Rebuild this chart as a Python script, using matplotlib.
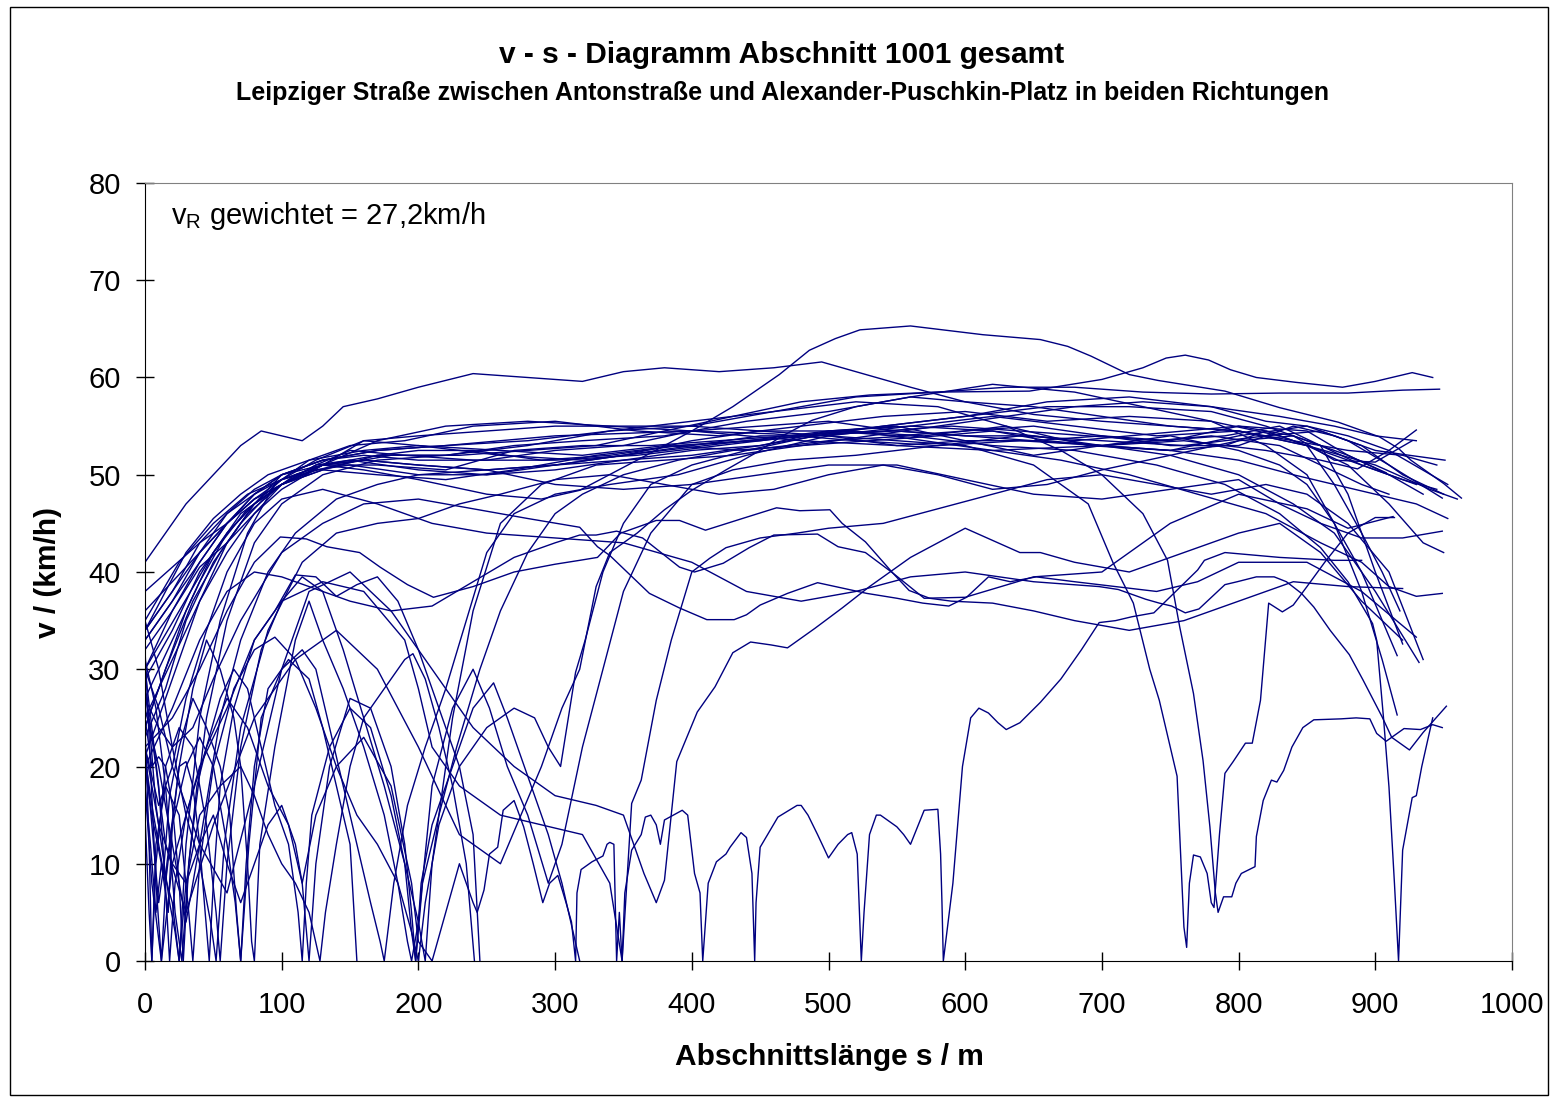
import matplotlib
matplotlib.use("Agg")
import matplotlib.pyplot as plt
from matplotlib.patches import Rectangle

plt.rcParams['font.family'] = ['Liberation Sans', 'DejaVu Sans']
plt.rcParams['mathtext.fontset'] = 'custom'
plt.rcParams['mathtext.rm'] = 'Liberation Sans'
plt.rcParams['mathtext.it'] = 'Liberation Sans'

# measured runs: (s in m, v in km/h)
r01 = [(0,41),(15,44),(30,47),(50,50),(70,53),(85,54.5),(100,54),(115,53.5),(130,55),(145,57),(170,57.8),(200,59),(240,60.4),(280,60),(320,59.6),(350,60.6),(380,61),(420,60.6),(460,61),(495,61.6),(520,60.6),(560,59),(600,57.5),(650,56.2),(700,55.5),(750,55),(800,54.5),(850,53),(900,51),(940,48.5),(960,47.5)]
r02 = [(0,34),(20,38),(40,43),(60,46),(80,48),(100,49.5),(130,51),(160,50.5),(200,49.5),(250,48),(290,47.5),(318,48.4),(360,51.5),(400,54.5),(430,57),(464,60.3),(486,62.8),(505,64),(523,64.9),(560,65.3),(613,64.4),(655,63.9),(675,63.2),(692,62.2),(720,60.3),(741,59.7),(790,58.6),(830,56.9),(873,55.4),(903,53.9),(917,52.7),(926,51.5),(950,49.1),(963,47.6)]
r03 = [(0,33),(20,37),(40,42),(60,46),(80,48.5),(100,50),(130,51.5),(170,52.5),(220,53),(280,53.5),(340,54.5),(400,55),(460,56.5),(520,58),(580,58.5),(647,58.6),(700,59.8),(730,61),(747,62),(761,62.3),(778,61.8),(794,60.8),(813,60),(842,59.5),(876,59),(900,59.6),(927,60.5),(942,60)]
r04 = [(0,35),(25,41),(50,45),(75,48),(100,49.5),(140,51),(180,52),(230,52),(280,52.5),(330,53),(380,54.5),(430,56),(480,57.5),(530,58.2),(580,58.5),(630,59),(680,59),(730,58.5),(780,58.3),(830,58.4),(880,58.4),(920,58.7),(947,58.8)]
r05 = [(0,30),(20,36),(40,41),(60,45),(80,48),(100,50),(130,51.5),(170,52.5),(220,53),(300,54),(400,54.5),(480,53.5),(550,53),(620,52.5),(700,53),(760,53.5),(820,52.5),(860,51.5),(887,50.6),(910,52.5),(930,54.6)]
r06 = [(0,27),(20,33),(40,39),(60,44),(80,47),(100,49.5),(125,51.5),(160,53.5),(200,53),(260,52),(320,51.5),(380,52.5),(440,53.5),(500,54.5),(560,55),(620,54.5),(680,53.5),(720,54),(760,54.5),(800,55),(840,54),(870,51.5),(900,51.3),(927,53.5)]
r07 = [(0,24),(15,30),(35,37),(55,42),(75,46),(100,49),(125,51),(150,52.5),(190,52),(240,51.5),(300,51.5),(360,52),(420,53),(480,54),(540,55),(600,56),(660,57.5),(720,58),(780,57),(820,55.5),(850,55),(880,54),(910,52.5),(953,49)]
r08 = [(0,34),(20,38),(40,42),(60,45),(80,47.5),(100,49),(125,51),(150,51.5),(200,50.5),(250,50),(300,50.5),(350,51.5),(400,52),(450,53),(500,54.2),(550,54.5),(600,54),(650,53.5),(700,53),(750,52.5),(800,54),(850,55),(880,53.5),(910,51),(949,47.6)]
r09 = [(0,23),(15,28),(30,35),(50,41),(70,45),(90,48),(110,50),(130,51),(160,51.5),(200,51),(250,50.5),(300,51),(350,52),(400,53.5),(450,54.5),(500,54),(550,53),(600,53.5),(650,53.5),(700,54),(750,53),(800,53),(840,55),(870,54),(900,52.5),(925,52),(951,51.5)]
r10 = [(0,38),(20,40.5),(40,43),(60,45),(80,47.5),(100,49),(130,50.5),(170,50),(220,49.5),(270,50.5),(330,52),(390,53),(450,53.5),(510,54.5),(570,54),(630,55),(690,53),(750,52.5),(800,51.5),(840,50),(870,49),(900,48),(930,47),(953,45.5)]
r11 = [(0,29),(20,34),(40,40),(60,44),(80,47),(100,49),(130,51),(160,53.5),(200,54),(250,54.5),(300,55),(350,55),(400,55),(450,54.5),(500,54.5),(550,54),(600,54.5),(650,55),(700,54),(750,53.5),(800,55),(850,54.5),(880,52),(908,50.2)]
r12 = [(0,32),(20,36),(40,40.5),(60,43),(80,46),(100,48.5),(130,51),(170,53.5),(220,55),(280,55.5),(340,55),(400,54.5),(460,54.2),(520,53.5),(580,53),(640,53.5),(700,53),(750,52.5),(790,53),(820,54.5),(850,53),(870,49),(890,44),(905,40),(918,36)]
r13 = [(0,25),(20,31),(40,37),(60,42),(80,46),(100,49),(130,50.5),(170,52),(200,52.5),(240,52.5),(290,51.5),(340,52),(390,53),(440,53.5),(490,54),(540,54.5),(590,55),(640,54.5),(690,54),(740,53.5),(790,54),(830,55),(860,53),(880,48),(900,40),(920,32.6)]
r14 = [(0,30),(25,36),(50,42),(75,46.5),(100,49),(125,50.5),(150,51),(200,50),(250,50),(300,51),(350,51.5),(400,52.5),(450,53),(500,54.5),(550,55),(600,53.5),(650,52),(700,53),(750,54),(800,52.5),(830,51),(850,49),(870,45),(890,40),(916,31.4)]
r15 = [(0,21),(20,29),(40,37),(60,43),(80,47),(100,50),(130,51.5),(160,52),(200,51.5),(250,51.5),(300,52.5),(350,53),(400,54.5),(450,55),(500,55.5),(550,54.5),(600,54),(650,54),(700,53),(750,52),(800,50),(840,47),(870,44),(900,38),(932,30.7)]
r16 = [(0,36),(20,39),(40,42),(60,45),(80,48),(100,50),(130,51),(170,51),(220,50.5),(270,52.5),(320,53),(370,53),(420,53.5),(470,54),(520,54.5),(570,53.5),(620,52.5),(670,51.5),(720,50),(770,48),(820,46),(860,43),(890,41),(910,38.5),(930,37.5),(949,37.8)]
r17 = [(0,33),(20,37),(40,41),(60,45),(80,47.5),(100,49.5),(130,51),(170,52),(220,52),(270,53),(320,53.5),(380,54),(440,55.5),(500,56.5),(560,58),(620,59.3),(680,58.5),(730,57),(780,55.5),(820,53),(850,50),(870,45),(890,38),(905,31),(916,25.3)]
r18 = [(0,24),(15,30),(30,36),(50,42),(70,46),(100,49),(130,51),(160,51.5),(200,51),(250,50.5),(300,49),(350,48.5),(400,49),(450,50),(500,51),(550,51),(600,49.5),(650,48),(700,47.5),(750,48.5),(800,49.5),(830,47),(860,45),(890,43.5),(920,43.5),(949,44.2)]
r19 = [(0,22),(20,25),(40,30),(60,36),(80,41),(99,43.6),(118,43.4),(133,42.6),(157,42),(172,40.5),(192,38.7),(211,37.4),(240,38.5),(270,40),(300,40.8),(318,41.2),(331,41.5),(348,44),(374,45.3),(391,45.3),(410,44.3),(437,45.5),(462,46.6),(479,46.3),(501,46.4),(510,45),(527,43.1),(547,39.9),(570,37.3),(600,37.4),(650,39.5),(700,40),(750,45),(800,48),(850,46.5),(880,44.5),(913,45.7)]
r20 = [(0,27),(10,24),(20,22),(35,24),(50,29),(70,35),(100,42),(130,45),(160,47),(200,47.5),(240,46.5),(280,45.5),(318,44.6),(331,42.6),(340,41.7),(369,37.8),(391,36.3),(411,35.1),(431,35.1),(440,35.6),(450,36.6),(470,37.8),(492,38.9),(528,37.8),(550,37.3),(569,36.8),(588,36.5),(601,37.4),(617,39.5),(633,39),(652,39.5),(680,39),(710,38.5),(740,38),(770,39),(800,41),(850,41),(890,38),(930,33.3)]
r21 = [(0,20),(20,26),(40,33),(60,38),(80,40),(100,39.5),(120,38.5),(150,37),(180,36),(210,36.5),(240,39),(270,41.5),(300,43),(318,43.8),(330,43.8),(345,44.2),(364,43.5),(391,40.5),(402,40),(423,40.9),(442,42.5),(460,43.8),(492,43.9),(507,42.6),(527,42),(547,39.9),(559,38.1),(574,37.3),(590,37),(620,36.8),(650,36),(680,35),(720,34),(760,35),(800,37),(840,39),(880,38.5),(920,38.3)]
r22 = [(0,28),(8,20),(15,12),(30,5),(50,14),(80,25),(110,31),(140,34),(170,30),(200,22),(230,13),(260,10),(290,20),(305,26),(318,30),(330,38.5),(340,42),(360,44),(380,46.4),(400,48.4),(425,50.5),(450,52.5),(465,53.9),(488,55.6),(520,57),(560,58),(600,57.5),(650,57),(700,56),(750,55),(800,54.5),(840,53.5),(880,52.5),(920,52),(945,51)]
r23 = [(0,18),(5,8),(12,0),(20,10),(40,20),(60,26),(80,33),(100,37),(130,39),(160,38),(190,33),(200,28),(210,22),(230,18),(260,15),(290,14),(320,13),(340,8),(349,0),(356,16.2),(363,18.6),(374,26.8),(385,33),(400,40),(413,41.4),(425,42.5),(450,43.5),(477,44),(500,44.5),(540,45),(580,46.5),(620,48),(660,49.5),(700,50),(740,49),(780,48),(820,49),(850,48),(880,45),(910,40),(935,31)]
r24 = [(0,30),(10,26),(20,20),(40,12),(60,7),(80,18),(100,30),(120,38),(150,40),(180,36),(210,30),(240,24),(270,20),(300,17),(330,16),(350,15),(365,9),(374,6),(380,8.3),(389,20.5),(404,25.6),(417,28.2),(430,31.7),(443,32.8),(458,32.5),(470,32.2),(490,34.2),(510,36.3),(530,38.5),(560,41.5),(600,44.5),(640,42),(655,42),(680,41),(720,40),(760,42),(800,44),(830,45),(860,42),(890,37),(920,33)]
r25 = [(0,22),(5,18),(10,14),(20,10),(30,8),(40,12),(50,15),(60,10),(70,6),(80,10),(90,14),(100,16),(110,12),(115,8),(125,15),(140,20),(160,23),(180,18),(195,8),(200,2),(210,0),(220,5),(230,10),(240,6),(243,5),(248,7.3),(252,11),(258,11.7),(262,15.5),(270,16.5),(277,13.8),(284,10),(291,6),(296,8),(302,8.8),(308,6),(312,4),(315,0),(316,7),(319,9.4),(327,10.2),(335,10.8),(338,12),(340,12.2),(343,12),(345,0),(347,5),(349,0),(351,7),(356,11.4),(363,13),(366,14.8),(370,15),(374,14),(377,12),(380,14.5),(393,15.5),(397,15),(402,9),(406,7),(408,0),(410,4),(412,8),(418,10.2),(425,11),(428,11.7),(436,13.2),(440,12.7),(444,9),(446,0),(447,6),(450,11.7),(463,14.8),(477,16),(480,16),(485,15),(492,13),(500,10.6),(507,12),(514,13),(517,13.2),(521,11),(524,0),(526,5),(530,13),(535,15),(538,15),(550,13.8),(555,13),(560,12),(570,15.5),(580,15.6),(582,11),(583,6),(584,0),(591,8),(598,20),(604,25),(610,26),(617,25.5),(624,24.5),(630,23.8),(640,24.5),(655,26.6),(670,29),(685,32),(698,34.8),(710,35),(722,35.4),(738,35.8),(754,38),(770,40.2),(775,41.2),(790,42),(830,41.5),(870,41.2),(890,41.2)]
r26 = [(0,26),(10,20),(20,12),(30,4),(40,12),(55,25),(70,33),(90,40),(110,44),(140,47.5),(170,49),(200,50),(250,50.5),(300,51),(350,52),(400,53),(450,54),(500,54),(550,53.5),(600,53),(650,51),(690,47),(708,41),(723,36.8),(735,30),(742,26.8),(755,19),(760,3.5),(762,1.4),(764,8),(767,10.9),(772,10.7),(777,9),(780,6),(782,5.5),(786,13),(790,19.3),(796,20.5),(805,22.4),(810,22.4),(816,26.8),(822,36.8),(832,35.9),(840,36.6),(850,38.5),(863,41),(880,44),(900,45.6),(914,45.6)]
r27 = [(0,31),(8,26),(15,18),(22,5),(27,0),(32,10),(45,25),(60,35),(80,43),(100,47),(130,50),(170,51.5),(220,52),(280,53),(340,54.5),(400,55.5),(460,56.5),(520,57.5),(580,57),(630,55),(670,52.5),(700,50),(730,46),(748,41.2),(757,34.3),(767,27.5),(774,20.6),(779,13.8),(783,7),(785,5),(789,6.6),(795,6.6),(798,8),(802,9),(812,9.7),(813,12.8),(818,16.5),(824,18.6),(828,18.4),(833,19.6),(839,22),(847,24),(855,24.8),(875,24.9),(886,25),(896,24.9),(901,23.4),(908,22.6),(921,23.9),(933,23.8),(942,24.3),(949,24)]
r28 = [(0,34),(15,38),(30,42),(50,45.5),(70,48),(90,50),(120,51.5),(160,52.5),(200,53),(260,52.5),(320,52),(380,53),(440,52.5),(500,53.5),(560,54),(620,53),(680,52.5),(740,51),(790,49),(830,46),(860,42.5),(880,39),(898,34.7),(901,33),(906,25),(910,17.9),(914,8),(917,0),(920,11.4),(927,16.8),(930,17),(934,20),(942,25)]
r29 = [(0,22),(10,16),(20,20),(30,27),(45,34),(60,40),(80,45),(100,47.5),(130,48.5),(170,47),(210,45),(250,44),(300,43.5),(350,43),(400,41),(440,38),(480,37),(520,38),(560,39.5),(600,40),(650,39),(698,38.5),(712,38.2),(732,37.2),(742,36.8),(751,36.5),(761,35.8),(771,36.2),(790,38.7),(799,39),(813,39.5),(826,39.5),(835,39),(846,37.8),(855,36.4),(867,34),(881,31.5),(891,28.9),(905,25.1),(912,23),(925,21.7),(935,23.5),(952,26.2)]
r30 = [(0,25),(5,20),(10,21),(15,20),(20,16),(25,8),(28,0),(32,10),(38,18),(45,22),(55,27),(65,30),(75,28),(85,22),(95,16),(105,12),(112,5),(115,0),(118,8),(122,15),(135,22),(150,26),(165,24),(180,17),(190,10),(195,3),(198,0),(202,8),(210,14),(225,20),(240,26),(255,28.6),(265,25),(280,19),(295,13),(305,8),(318,0)]
r31 = [(0,32),(4,20),(8,8),(12,0),(16,10),(25,20),(35,28),(45,33),(55,30),(65,25),(70,20),(75,10),(78,2),(80,0),(84,12),(95,22),(110,33),(120,37),(130,33),(145,28),(160,22),(175,15),(185,8),(192,2),(195,0),(200,4),(210,18),(225,26),(240,30),(252,26),(265,20),(280,15),(295,8),(305,12),(320,22),(335,30),(350,38),(370,44),(400,49),(430,50.5),(470,51.5),(520,52),(580,53),(640,54),(700,53.5),(760,53),(820,54),(860,54.5),(890,53),(920,50),(950,48)]
r32 = [(0,18),(4,12),(8,5),(12,10),(17,5),(20,14),(25,20),(30,20.5),(35,18),(40,12),(44,5),(47,0),(50,8),(55,18),(65,26),(80,33),(95,36),(110,39.7),(125,39.5),(140,37.5),(155,38.7),(170,39.5),(185,37),(200,32),(215,26),(230,20),(240,13),(245,0)]
r33 = [(0,15),(3,5),(5,0),(8,10),(15,20),(25,24),(35,22),(45,14),(52,5),(55,0),(60,10),(70,22),(85,32),(100,37),(115,39.5),(130,38),(145,32),(160,25),(175,18),(190,10),(200,4),(205,0),(210,10),(225,25),(240,36),(260,45),(290,49),(330,51),(380,51.5),(430,52),(480,53),(530,53.5),(580,54),(620,54.5),(660,53.5),(700,53),(740,53.5),(780,54),(830,53),(860,51),(890,49),(910,48)]
r34 = [(0,22),(5,14),(10,6),(14,10),(18,17),(25,22),(35,27),(45,24),(55,20),(62,15),(67,5),(70,0),(74,10),(80,20),(90,28),(105,31),(120,29),(130,24),(140,18),(150,12),(155,0)]
r35 = [(0,28),(4,23),(8,16),(12,12),(18,6),(22,3),(25,0),(30,12),(40,25),(55,35),(75,44),(95,49),(120,51.5),(150,53),(190,53.5),(240,55),(300,55.5),(360,54.5),(420,54),(480,55),(540,56),(600,56.5),(660,55.5),(720,56),(780,55.5),(830,54),(870,52),(900,50.5),(930,49)]
r36 = [(0,21),(5,16),(10,12),(15,8),(20,14),(30,20),(40,23),(50,20),(60,12),(66,6),(70,0),(76,12),(85,25),(100,30),(115,32),(125,30),(135,24),(145,18),(155,12),(165,6),(172,2),(175,0),(182,8),(192,16),(205,22),(220,28),(235,35),(250,42),(270,46),(300,48),(340,49),(390,50),(440,52),(500,54),(560,55),(620,56),(680,55),(740,54),(800,54.5),(850,53),(880,51),(910,47),(935,43),(950,42)]
r37 = [(0,20),(5,15),(12,10),(20,6),(25,0),(30,8),(40,15),(55,18),(70,20),(80,17),(90,13),(100,10),(110,8),(120,5),(128,0),(132,5),(140,12),(150,20),(160,25),(175,28),(190,31),(196,31.6),(205,29),(215,24),(225,18),(235,10),(241,0)]
r38 = [(0,35),(10,30),(20,22),(30,15),(40,10),(48,4),(52,0),(58,12),(70,24),(90,34),(115,41),(140,44),(170,45),(200,45.5),(230,47),(260,48),(300,49.5),(340,50),(380,49),(420,48),(460,48.5),(500,50),(540,51),(580,50),(620,48.5),(660,49),(700,50.5),(750,52),(800,53.5),(840,54),(880,52),(910,50),(935,48)]
r39 = [(0,30),(5,24),(10,18),(14,10),(18,0),(22,8),(30,15),(45,22),(60,27),(75,24),(90,18),(105,14),(115,8),(120,0),(125,10),(135,20),(150,27),(165,26),(180,20),(190,12),(195,5),(198,0),(203,8),(215,15),(228,22),(245,30),(260,36),(280,42),(300,46),(320,48),(350,50),(390,51.5),(430,52.5),(480,53),(530,54),(580,55),(630,56),(680,57),(730,57.5),(780,57),(830,56),(870,55),(900,54),(930,53.5)]
r40 = [(0,24),(3,12),(5,0),(8,12),(15,18),(25,15),(32,5),(35,0),(40,10),(50,20),(65,28),(80,32),(95,33.3),(110,31),(125,26),(140,20),(155,15),(170,12),(185,8),(195,3),(200,0),(205,6),(215,14),(230,20),(250,24),(270,26),(285,25),(295,22),(304,20),(315,29.7),(322,33),(335,40),(350,45),(370,49),(400,51),(440,52.5),(490,54),(540,55),(600,56),(660,57),(720,57),(780,56.5),(820,55),(860,53),(890,51),(920,49.5),(945,48.5)]

runs = [r01, r02, r03, r04, r05, r06, r07, r08, r09, r10, r11, r12, r13, r14, r15,
        r16, r17, r18, r19, r20, r21, r22, r23, r24, r25, r26, r27, r28, r29, r30,
        r31, r32, r33, r34, r35, r36, r37, r38, r39, r40]

xticks = [0, 100, 200, 300, 400, 500, 600, 700, 800, 900, 1000]
yticks = [0, 10, 20, 30, 40, 50, 60, 70, 80]

fig = plt.figure(figsize=(15.51, 10.98), dpi=100)
ax = fig.add_axes([145/1551, 1 - 961/1098, (1512-145)/1551, (961-183)/1098])

for run in runs:
    s, v = zip(*run)
    ax.plot(s, v, color='#000080', lw=1.0)

ax.set_xlim(0, 1000)
ax.set_ylim(0, 80)
ax.set_xticks(xticks)
ax.set_yticks(yticks)
ax.tick_params(direction='inout', length=13, width=1, labelsize=21, colors='black')
ax.tick_params(axis='x', pad=15)
ax.tick_params(axis='y', pad=11)
for side in ['top', 'right']:
    ax.spines[side].set_color('#808080')
for side in ['left', 'bottom']:
    ax.spines[side].set_color('black')

fig.text(829/1551, 1 - 1057/1098, 'Abschnittslänge s / m', fontsize=21.5,
         fontweight='bold', ha='center', va='center')
fig.text(48/1551, 1 - 572/1098, 'v / (km/h)', fontsize=21.5, fontweight='bold',
         ha='center', va='center', rotation=90)

fig.text(171/1551, 1 - 224/1098, r'v$_\mathrm{R}$ gewichtet = 27,2km/h',
         fontsize=21, va='baseline', ha='left')

fig.text(782/1551, 1 - 55/1098, 'v - s - Diagramm Abschnitt 1001 gesamt',
         fontsize=21.5, fontweight='bold', ha='center', va='center')
fig.text(782/1551, 1 - 93/1098, 'Leipziger Straße zwischen Antonstraße und Alexander-Puschkin-Platz in beiden Richtungen',
         fontsize=18, fontweight='bold', ha='center', va='center')

fig.patches.append(Rectangle((10/1551, 3/1098), 1538/1551, 1088/1098, transform=fig.transFigure,
                             fill=False, edgecolor='black', lw=1))

fig.savefig('out.png', dpi=100)
